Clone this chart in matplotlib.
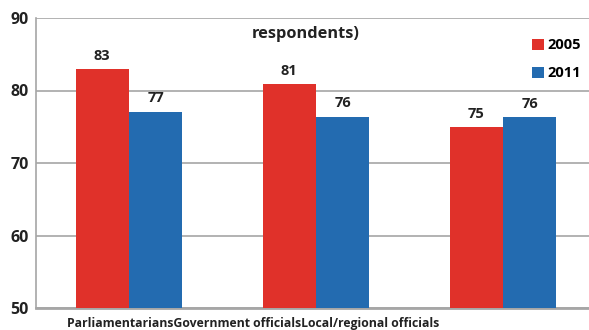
import matplotlib
matplotlib.use("Agg")
import matplotlib.pyplot as plt
import numpy as np

categories = ["Parliamentarians", "Government officials", "Local/regional officials"]
series_names = ["2005", "2011"]
values_2005 = [83.0, 80.9, 74.9]
values_2011 = [77.1, 76.4, 76.3]
labels_2005 = ["83", "81", "75"]
labels_2011 = ["77", "76", "76"]
yticks = [50, 60, 70, 80, 90]
title_text = "respondents)"

RED = "#E0312A"
BLUE = "#236BB0"
GRID = "#A6A6A6"
FONT = "Open Sans"
TXT = "#222222"

fig = plt.figure(figsize=(5.89, 3.30), dpi=100)
ax = fig.add_axes([36/589, 1 - 308/330, 553/589, (308-18)/330])

x = np.arange(len(categories))
w = 0.285
b1 = ax.bar(x - w/2, values_2005, w, color=RED, label=series_names[0], zorder=3)
b2 = ax.bar(x + w/2, values_2011, w, color=BLUE, label=series_names[1], zorder=3)

for bars, labs in ((b1, labels_2005), (b2, labels_2011)):
    for r, lab in zip(bars, labs):
        ax.annotate(lab, (r.get_x() + r.get_width()/2, r.get_height()),
                    xytext=(0, 4.5), textcoords="offset points", ha="center", va="bottom",
                    fontsize=10.5, fontweight="bold", family=FONT, color=TXT)

ax.set_ylim(50, 90)
ax.set_xlim(-0.497, 2.46)
ax.set_yticks(yticks)
ax.set_yticklabels([str(t) for t in yticks], fontsize=11.5, fontweight="bold", family=FONT, color=TXT)
ax.tick_params(axis="y", length=0, pad=5)
ax.set_xticks([])
ax.yaxis.grid(True, color=GRID, linewidth=1.2, zorder=0)
ax.set_axisbelow(True)
for s in ("top", "right"):
    ax.spines[s].set_visible(False)
ax.spines["left"].set_color(GRID)
ax.spines["left"].set_linewidth(1.2)
ax.spines["bottom"].set_color(GRID)
ax.spines["bottom"].set_linewidth(2)

ax.text(0.488, 0.945, title_text, transform=ax.transAxes, ha="center", va="center",
        fontsize=11.8, fontweight="bold", family=FONT, color=TXT)

ax.text(0.393, -0.052, "".join(categories), transform=ax.transAxes, ha="center", va="center",
        fontsize=8.8, fontweight="bold", family=FONT, color=TXT)

leg = ax.legend(loc="upper right", bbox_to_anchor=(1.01, 0.975), frameon=False,
                prop={"family": FONT, "weight": "bold", "size": 10.5},
                handlelength=0.8, handleheight=0.8, handletextpad=0.3, labelspacing=0.95)

fig.savefig("out.png", dpi=100)
